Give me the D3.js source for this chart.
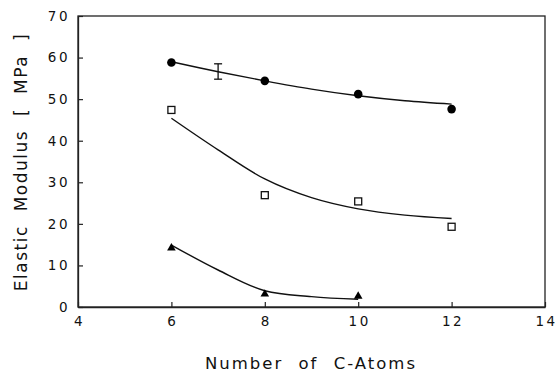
<!DOCTYPE html>
<html lang="en">

<head>
  <meta charset="utf-8" />
  <style>
    body {
      margin: 0;
      background: white;
    }

    text {
      font-family: "DejaVu Sans", sans-serif;
      fill: #111;
    }
  </style>
</head>

<body>
  <div id="chart"></div>

  <script src="https://cdnjs.cloudflare.com/ajax/libs/d3/7.8.5/d3.min.js"></script>

  <script>
    // measured points
    const carbons = [6, 8, 10, 12];
    const circleVals = [58.8, 54.4, 51.2, 47.6];
    const squareVals = [47.4, 26.9, 25.4, 19.3];
    const triCarbons = [6, 8, 10];
    const triangleVals = [14.2, 3.1, 2.6];

    // fitted curves at integer x
    const fitX = [6, 7, 8, 9, 10, 11, 12];
    const circleFit = [59.0, 56.6, 54.4, 52.4, 50.8, 49.6, 48.8];
    const squareFit = [45.4, 37.8, 30.8, 26.3, 23.6, 22.1, 21.3];
    const triFitX = [6, 7, 8, 9, 10];
    const triangleFit = [14.9, 8.9, 3.9, 2.5, 1.85];

    // error bar at x = 7
    const errX = 7;
    const errLow = 54.8;
    const errHigh = 58.5;

    const xTicks = [4, 6, 8, 10, 12, 14];
    const yTicks = [0, 10, 20, 30, 40, 50, 60, 70];

    const width = 558;
    const height = 373;
    const margin = { left: 78, right: 13, top: 16, bottom: 66 };

    const svg = d3.select("#chart")
      .append("svg")
      .attr("width", width)
      .attr("height", height);

    const x = d3.scaleLinear().domain([4, 14]).range([margin.left, width - margin.right]);
    const y = d3.scaleLinear().domain([0, 70]).range([height - margin.bottom, margin.top]);

    // frame
    svg.append("rect")
      .attr("x", x(4))
      .attr("y", y(70))
      .attr("width", x(14) - x(4))
      .attr("height", y(0) - y(70))
      .attr("fill", "none")
      .attr("stroke", "#222")
      .attr("stroke-width", 1.3);

    // axes with inward ticks
    const xAxis = svg.append("g")
      .attr("transform", `translate(0,${y(0)})`)
      .call(d3.axisBottom(x).tickValues(xTicks).tickSizeInner(-5).tickSizeOuter(0).tickPadding(9));
    const yAxis = svg.append("g")
      .attr("transform", `translate(${x(4)},0)`)
      .call(d3.axisLeft(y).tickValues(yTicks).tickSizeInner(-5).tickSizeOuter(0).tickPadding(8));

    [xAxis, yAxis].forEach(g => {
      g.select(".domain").attr("stroke", "#222").attr("stroke-width", 1.3);
      g.selectAll(".tick line").attr("stroke", "#222").attr("stroke-width", 1.2);
      g.selectAll(".tick text")
        .attr("fill", "#111")
        .style("font-size", "13.5px")
        .style("letter-spacing", "2.5px")
        .style("font-family", "DejaVu Sans, sans-serif");
    });
    xAxis.selectAll(".tick text").attr("dx", "1px");

    // axis titles
    svg.append("text")
      .attr("x", 311)
      .attr("y", 369)
      .attr("text-anchor", "middle")
      .style("font-size", "16.5px")
      .style("letter-spacing", "2px")
      .style("word-spacing", "8px")
      .text("Number of C-Atoms");

    svg.append("text")
      .attr("transform", "translate(27,162) rotate(-90)")
      .attr("text-anchor", "middle")
      .style("font-size", "17px")
      .style("letter-spacing", "1.5px")
      .style("word-spacing", "7px")
      .text("Elastic Modulus [ MPa ]");

    // fitted curves
    const line = d3.line()
      .x(d => x(d[0]))
      .y(d => y(d[1]))
      .curve(d3.curveCatmullRom.alpha(0.5));

    const fits = [
      d3.zip(fitX, circleFit),
      d3.zip(fitX, squareFit),
      d3.zip(triFitX, triangleFit)
    ];

    svg.selectAll("path.fit")
      .data(fits)
      .join("path")
      .attr("class", "fit")
      .attr("fill", "none")
      .attr("stroke", "#111")
      .attr("stroke-width", 1.4)
      .attr("d", line);

    // error bar
    const eb = svg.append("g").attr("stroke", "#111").attr("stroke-width", 1.3);
    eb.append("line").attr("x1", x(errX)).attr("x2", x(errX)).attr("y1", y(errLow)).attr("y2", y(errHigh));
    eb.append("line").attr("x1", x(errX) - 4).attr("x2", x(errX) + 4).attr("y1", y(errLow)).attr("y2", y(errLow));
    eb.append("line").attr("x1", x(errX) - 4).attr("x2", x(errX) + 4).attr("y1", y(errHigh)).attr("y2", y(errHigh));

    // circles
    svg.selectAll("circle.pt")
      .data(d3.zip(carbons, circleVals))
      .join("circle")
      .attr("class", "pt")
      .attr("cx", d => x(d[0]))
      .attr("cy", d => y(d[1]))
      .attr("r", 4.3)
      .attr("fill", "#000");

    // squares
    svg.selectAll("rect.pt")
      .data(d3.zip(carbons, squareVals))
      .join("rect")
      .attr("class", "pt")
      .attr("x", d => x(d[0]) - 3.5)
      .attr("y", d => y(d[1]) - 3.5)
      .attr("width", 7)
      .attr("height", 7)
      .attr("fill", "white")
      .attr("stroke", "#111")
      .attr("stroke-width", 1.3);

    // triangles
    svg.selectAll("path.tri")
      .data(d3.zip(triCarbons, triangleVals))
      .join("path")
      .attr("class", "tri")
      .attr("transform", d => `translate(${x(d[0])},${y(d[1])})`)
      .attr("d", d3.symbol(d3.symbolTriangle, 32))
      .attr("fill", "#000");
  </script>
</body>

</html>
